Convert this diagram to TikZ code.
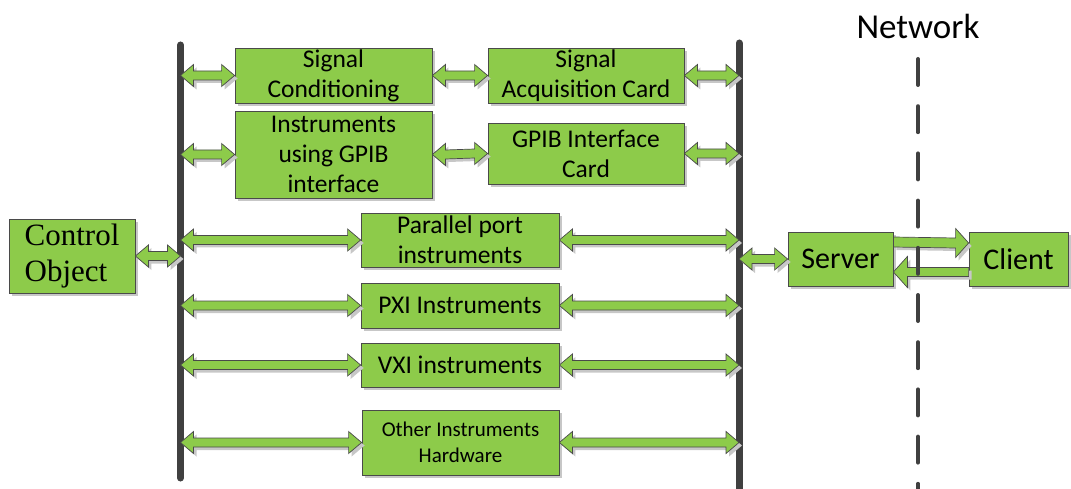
\documentclass[tikz,border=0pt]{standalone}
\usepackage{fontspec}
\setmainfont{Carlito}
\newfontfamily\serifco{Liberation Serif}
\usetikzlibrary{calc}
\definecolor{boxgreen}{HTML}{8DCB4A}
\definecolor{edgegray}{HTML}{4A4A4A}
\definecolor{busgray}{HTML}{404040}
\tikzset{
  dropsh/.style={preaction={fill=black!22, transform canvas={shift={(3pt,-3pt)}}}},
  box/.style={draw=edgegray, line width=0.8pt, fill=boxgreen, dropsh, inner sep=0pt,
    align=center, font=\fontsize{25.5}{30}\selectfont},
  arrowshape/.style={draw=edgegray, line width=0.7pt, fill=boxgreen, dropsh, line join=miter},
  bus/.style={line width=7pt, draw=busgray, line cap=round},
  netline/.style={line width=4pt, draw=busgray, line cap=round, dash pattern=on 26pt off 21.2pt},
}
% double arrow, #1 left end, #2 right end
\newcommand{\dblarrow}[2]{%
  \path[arrowshape] let \p1=(#1), \p2=(#2) in
    (\x1,\y1) -- (\x1+13pt,\y1+11pt) -- (\x1+13pt,\y1+4.5pt) -- (\x2-13pt,\y2+4.5pt)
    -- (\x2-13pt,\y2+11pt) -- (\x2,\y2) -- (\x2-13pt,\y2-11pt) -- (\x2-13pt,\y2-4.5pt)
    -- (\x1+13pt,\y1-4.5pt) -- (\x1+13pt,\y1-11pt) -- cycle;}
% single arrow pointing right, tip at #2
\newcommand{\rarrow}[2]{%
  \path[arrowshape] let \p1=(#1), \p2=(#2) in
    (\x1,\y1+5pt) -- (\x2-13pt,\y2+5pt) -- (\x2-13pt,\y2+14.5pt) -- (\x2,\y2)
    -- (\x2-13pt,\y2-14.5pt) -- (\x2-13pt,\y2-5pt) -- (\x1,\y1-5pt) -- cycle;}
% single arrow pointing left, tip at #2
\newcommand{\larrow}[2]{%
  \path[arrowshape] let \p1=(#1), \p2=(#2) in
    (\x1,\y1+4.5pt) -- (\x2+14pt,\y2+4.5pt) -- (\x2+14pt,\y2+15.5pt) -- (\x2,\y2)
    -- (\x2+14pt,\y2-15.5pt) -- (\x2+14pt,\y2-4.5pt) -- (\x1,\y1-4.5pt) -- cycle;}
\begin{document}
\begin{tikzpicture}[x=1pt,y=-1pt]
\useasboundingbox (0,0) rectangle (1071,489);
% buses
\coordinate (busLtop) at (180.5,45);
\coordinate (busLbot) at (180.5,478);
\coordinate (busRtop) at (739,43);
\coordinate (busRbot) at (739,489);
\draw[bus] (busLtop) -- (busLbot);
\draw[bus] (busRtop) -- (busRbot);
% boxes
\node[box, minimum width=197pt, minimum height=55pt] (sc) at (333.5,75.5) {Signal\\Conditioning};
\node[box, minimum width=196pt, minimum height=55pt] (sac) at (586,75.5) {Signal\\Acquisition Card};
\node[box, minimum width=197pt, minimum height=87pt] (gi) at (333.5,154.5) {Instruments\\using GPIB\\interface};
\node[box, minimum width=196pt, minimum height=61pt] (gc) at (586,153.5) {GPIB Interface\\Card};
\node[box, minimum width=198pt, minimum height=54pt] (pp) at (460,240) {Parallel port\\instruments};
\node[box, minimum width=198pt, minimum height=45pt] (pxi) at (460,305.5) {PXI Instruments};
\node[box, minimum width=198pt, minimum height=44pt] (vxi) at (460,365) {VXI instruments};
\node[box, minimum width=197pt, minimum height=65pt, font=\fontsize{21}{26}\selectfont] (oth) at (460.5,442.5) {Other Instruments\\Hardware};
\node[box, minimum width=126pt, minimum height=74pt, align=left, font=\serifco\fontsize{31}{36}\selectfont] (co) at (72,256) {Control\\Object};
\node[box, minimum width=105pt, minimum height=54pt, font=\fontsize{30}{36}\selectfont] (srv) at (840.5,259) {Server};
\node[box, minimum width=99pt, minimum height=54pt, font=\fontsize{30}{36}\selectfont] (cli) at (1018.5,259) {Client};
\node[font=\fontsize{35}{42}\selectfont, inner sep=0pt] (net) at (918,26) {Network};
% arrows
\dblarrow{busLtop |- sc.west}{sc.west}
\dblarrow{sc.east}{sac.west}
\dblarrow{sac.east}{busRtop |- sac.east}
\dblarrow{busLtop |- gi.west}{gi.west}
\dblarrow{gi.east}{gc.west}
\dblarrow{gc.east}{busRtop |- gc.east}
\dblarrow{co.east}{busLtop |- co.east}
\dblarrow{busLtop |- pp.west}{pp.west}
\dblarrow{pp.east}{busRtop |- pp.east}
\dblarrow{busLtop |- pxi.west}{pxi.west}
\dblarrow{pxi.east}{busRtop |- pxi.east}
\dblarrow{busLtop |- vxi.west}{vxi.west}
\dblarrow{vxi.east}{busRtop |- vxi.east}
\dblarrow{busLtop |- oth.west}{oth.west}
\dblarrow{oth.east}{busRtop |- oth.east}
\dblarrow{busRtop |- srv.west}{srv.west}
\rarrow{[yshift=17pt]srv.east}{[yshift=16pt]cli.west}
\larrow{[yshift=-13pt]cli.west}{[yshift=-13pt]srv.east}
% network line
\coordinate (nettop) at (918,59);
\coordinate (netbot) at (918,489);
\draw[netline] (nettop) -- (netbot);
\end{tikzpicture}
\end{document}
